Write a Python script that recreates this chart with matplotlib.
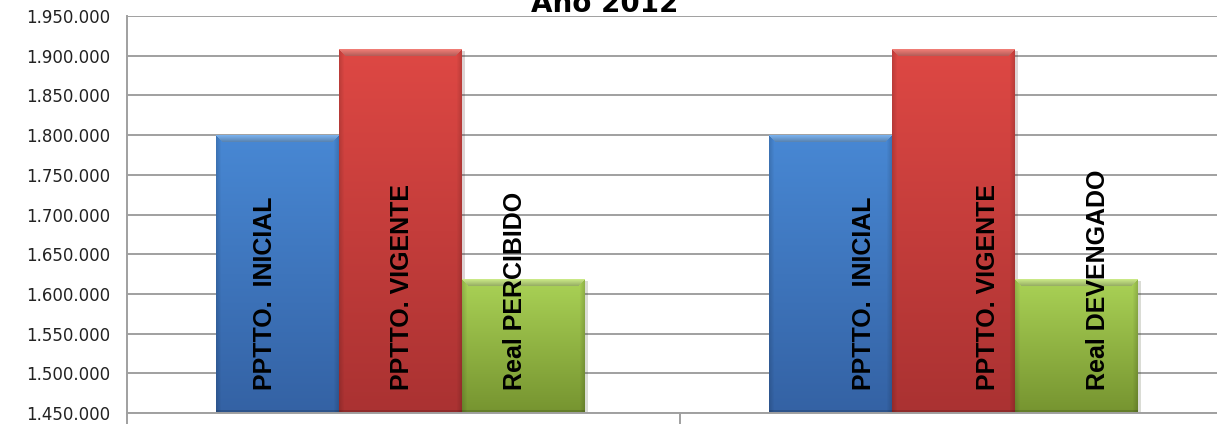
import numpy as np
import matplotlib.pyplot as plt
import matplotlib.patheffects as pe
from matplotlib.ticker import FuncFormatter, MultipleLocator, FixedLocator

# budget execution, two comparisons (income / expense)
ppto_inicial = [1800000, 1800000]
ppto_vigente = [1908000, 1908000]
real_valor = [1618000, 1618000]

bar_labels = [
    ['PPTTO.  INICIAL', 'PPTTO. VIGENTE', 'Real PERCIBIDO'],
    ['PPTTO.  INICIAL', 'PPTTO. VIGENTE', 'Real DEVENGADO'],
]
titulo = 'Año 2012'

y_min, y_max, y_step = 1450000, 1950000, 50000

# (top, bottom, bevel) colours for each series
palette = [
    ((72, 136, 212), (52, 98, 164), (120, 176, 236)),
    ((222, 72, 68), (170, 50, 50), (240, 125, 118)),
    ((170, 210, 86), (118, 148, 48), (202, 232, 134)),
]


def thousands(v, pos):
    return f'{int(round(v)):,}'.replace(',', '.')


def shade_bar(ax, bar, top, bottom, bevel):
    # paint a vertical gradient with a light bevel on top of a bar
    x0, w = bar.get_x(), bar.get_width()
    y0 = max(bar.get_y(), ax.get_ylim()[0])
    y1 = bar.get_y() + bar.get_height()
    (px0, py0) = ax.transData.transform((x0, y0))
    (px1, py1) = ax.transData.transform((x0 + w, y1))
    W, H = int(round(px1 - px0)), int(round(py1 - py0))
    top, bottom, bevel = (np.array(c) / 255.0 for c in (top, bottom, bevel))
    t = np.linspace(0, 1, H)[:, None, None]
    img = top + (bottom - top) * t
    img = np.repeat(img, W, axis=1)
    side = 5
    cols = np.arange(W)
    edge = np.minimum(cols, W - 1 - cols)
    shade = np.where(edge < side, 0.86 + 0.14 * edge / side, 1.0)
    img = img * shade[None, :, None]
    bev = 7
    for r in range(min(bev, H)):
        lo, hi = r, W - r
        img[r, lo:hi] = bevel * (1 - 0.04 * r)
    img[-3:] *= 0.85
    ax.imshow(np.clip(img, 0, 1), extent=(x0, x0 + w, y0, y1), aspect='auto',
              origin='upper', interpolation='bilinear', zorder=bar.get_zorder() + 0.1)


fig = plt.figure(figsize=(12.17, 4.24), dpi=100)
ax = fig.add_axes([127 / 1217, 11 / 424, 1 - 127 / 1217, (413 - 16) / 424])

x = np.arange(len(ppto_inicial))
width = 0.2224
shift = -0.0055
series = [ppto_inicial, ppto_vigente, real_valor]
offsets = [-width + shift, shift, width + shift]

ax.set_xlim(-0.5, -0.5 + (1217 - 127) / 553)
ax.set_ylim(y_min, y_max)

bars = []
for k, vals in enumerate(series):
    b = ax.bar(x + offsets[k], vals, width, color=np.array(palette[k][0]) / 255,
               zorder=2, linewidth=0)
    for patch in b:
        patch.set_path_effects([pe.SimplePatchShadow(offset=(2, -1), alpha=0.18),
                                pe.Normal()])
    bars.append(b)

for k, b in enumerate(bars):
    for patch in b:
        shade_bar(ax, patch, *palette[k])

# series names written inside the bars
label_shift = [[-0.022, 0.002, -0.015], [0.060, 0.062, 0.039]]
label_base = 1479000
for g in range(len(x)):
    for k in range(3):
        ax.text(x[g] + offsets[k] + label_shift[g][k], label_base, bar_labels[g][k],
                rotation=90, ha='center', va='bottom', fontsize=18,
                fontweight='bold', family='Liberation Sans', color='black',
                zorder=5)

ax.set_xlim(-0.5, -0.5 + (1217 - 127) / 553)
ax.set_ylim(y_min, y_max)

ax.yaxis.set_major_locator(MultipleLocator(y_step))
ax.yaxis.set_major_formatter(FuncFormatter(thousands))
ax.tick_params(axis='y', length=0, pad=12, labelsize=12, labelcolor='#222222')
for lbl in ax.get_yticklabels():
    lbl.set_family('DejaVu Sans')

ax.xaxis.set_major_locator(FixedLocator([]))
ax.xaxis.set_minor_locator(FixedLocator([-0.5, 0.5, 1.5]))
ax.tick_params(axis='x', which='minor', direction='out', length=8,
               width=1.4, color='#a0a0a0')

ax.yaxis.grid(True, color='#a0a0a0', linewidth=1.4)
ax.set_axisbelow(True)
for s in ['top', 'right']:
    ax.spines[s].set_visible(False)
for s in ['left', 'bottom']:
    ax.spines[s].set_color('#a0a0a0')
    ax.spines[s].set_linewidth(1.4)

fig.text(605 / 1217, 1 - 12.5 / 424, titulo, ha='center', va='baseline',
         fontsize=20, fontweight='bold', family='DejaVu Sans', color='black')

fig.savefig('out.png', dpi=100)
